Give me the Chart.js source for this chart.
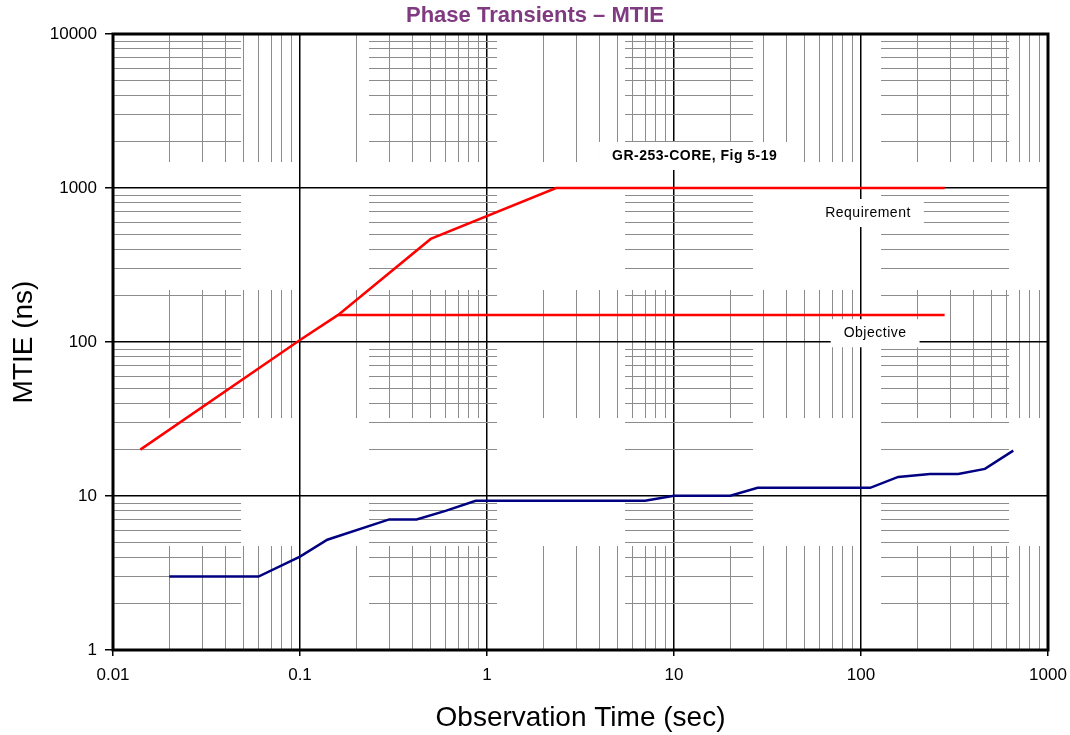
<!DOCTYPE html>
<html>
<head>
<meta charset="utf-8">
<title>Phase Transients - MTIE</title>
<script src="https://cdn.jsdelivr.net/npm/chart.js@4.4.1/dist/chart.umd.min.js"></script>
<style>
  html, body { margin: 0; padding: 0; background: #fff; }
</style>
</head>
<body>
<canvas id="mtieChart" width="1070" height="735"></canvas>
<script>
// GR-253 mask (requirement / objective) and the measured MTIE curve
const reqTime = [0.014, 0.1, 0.16, 0.5, 2.34, 280];
const reqMtie = [20, 103, 150, 467, 1000, 1000];

const objTime = [0.16, 280];
const objMtie = [150, 150];

const measTime = [0.02, 0.06, 0.1, 0.14, 0.3, 0.42, 0.6, 0.87, 7, 10, 20, 28, 112, 158, 234, 331, 460, 652];
const measMtie = [3, 3, 4.04, 5.2, 7.05, 7.05, 8.0, 9.3, 9.3, 10.05, 10.05, 11.3, 11.3, 13.3, 13.9, 13.9, 15.0, 19.7];

const xDecades = [0.01, 0.1, 1, 10, 100, 1000];
const yDecades = [1, 10, 100, 1000, 10000];

const notes = [
    { text: 'GR-253-CORE, Fig 5-19', x: 12.9, y: 1614, bold: true },
    { text: 'Requirement', x: 109, y: 688, bold: false },
    { text: 'Objective', x: 119, y: 114, bold: false }
];

const isMajor = v => Math.abs(Math.log10(v) - Math.round(Math.log10(v))) < 1e-9;

function decadeLabel(v) {
    const n = Math.round(Math.log10(v));
    return n < 0 ? Math.pow(10, n).toFixed(-n) : String(Math.pow(10, n));
}

// 1..9 inside every decade, for the grid
function gridValues(decades) {
    const out = [];
    decades.forEach((d, i) => {
        if (i === decades.length - 1) { out.push(d); return; }
        for (let m = 1; m < 10; m++) out.push(d * m);
    });
    return out;
}

const pairs = (xs, ys) => xs.map((x, i) => ({ x: x, y: ys[i] }));

Chart.defaults.font.family = "'Liberation Sans', Arial, sans-serif";
Chart.defaults.color = '#000';

const gridOpts = {
    color: ctx => isMajor(ctx.tick.value) ? '#000' : '#8c8c8c',
    lineWidth: ctx => isMajor(ctx.tick.value) ? 1.5 : 1,
    tickColor: ctx => isMajor(ctx.tick.value) ? '#000' : 'rgba(0,0,0,0)',
    tickWidth: 1.5
};
const borderOpts = {
    display: false,
    dash: ctx => (ctx.tick && !isMajor(ctx.tick.value)) ? [128, 128] : []
};

const plotFrame = {
    id: 'plotFrame',
    beforeDatasetsDraw(chart) {
        const { ctx, chartArea: a } = chart;
        ctx.save();
        ctx.strokeStyle = '#000';
        ctx.lineWidth = 3;
        ctx.strokeRect(a.left, a.top, a.right - a.left, a.bottom - a.top);
        ctx.restore();
    }
};

const noteBoxes = {
    id: 'noteBoxes',
    afterDatasetsDraw(chart) {
        const { ctx, scales } = chart;
        notes.forEach(n => {
            const px = scales.x.getPixelForValue(n.x);
            const py = scales.y.getPixelForValue(n.y);
            ctx.save();
            ctx.font = (n.bold ? 'bold ' : '') + "14px 'Liberation Sans', Arial, sans-serif";
            ctx.letterSpacing = '0.5px';
            const w = ctx.measureText(n.text).width + 26;
            ctx.fillStyle = '#fff';
            ctx.fillRect(px - w / 2, py - 14, w, 28);
            ctx.fillStyle = '#000';
            ctx.textAlign = 'center';
            ctx.textBaseline = 'middle';
            ctx.fillText(n.text, px, py);
            ctx.restore();
        });
    }
};

const ctx = document.getElementById('mtieChart').getContext('2d');
new Chart(ctx, {
    type: 'line',
    data: {
        datasets: [
            {
                label: 'Requirement',
                data: pairs(reqTime, reqMtie),
                borderColor: '#ff0000',
                borderWidth: 2.5,
                pointRadius: 0
            },
            {
                label: 'Objective',
                data: pairs(objTime, objMtie),
                borderColor: '#ff0000',
                borderWidth: 2.5,
                pointRadius: 0
            },
            {
                label: 'MTIE',
                data: pairs(measTime, measMtie),
                borderColor: '#000080',
                borderWidth: 2.5,
                pointRadius: 0
            }
        ]
    },
    options: {
        responsive: false,
        animation: false,
        devicePixelRatio: 1,
        plugins: {
            legend: { display: false },
            tooltip: { enabled: false },
            title: {
                display: true,
                text: 'Phase Transients \u2013 MTIE',
                color: '#803a80',
                font: { size: 22, weight: 'bold' },
                padding: { top: 3, bottom: 4.6 }
            }
        },
        scales: {
            x: {
                type: 'logarithmic',
                min: 0.01,
                max: 1000,
                afterBuildTicks: s => { s.ticks = gridValues(xDecades).map(v => ({ value: v })); },
                afterFit: s => { s.height = 85; s.paddingRight = 22; },
                ticks: {
                    autoSkip: false,
                    maxRotation: 0,
                    padding: 9,
                    font: { size: 17 },
                    callback: v => isMajor(v) ? decadeLabel(v) : ''
                },
                grid: Object.assign({ tickLength: 6 }, gridOpts),
                border: borderOpts,
                title: {
                    display: true,
                    text: 'Observation Time (sec)',
                    font: { size: 28 },
                    padding: { top: 0, bottom: 0 }
                }
            },
            y: {
                type: 'logarithmic',
                min: 1,
                max: 10000,
                afterBuildTicks: s => { s.ticks = gridValues(yDecades).map(v => ({ value: v })); },
                afterFit: s => { s.width = 113; },
                ticks: {
                    autoSkip: false,
                    padding: 8,
                    font: { size: 17 },
                    callback: v => isMajor(v) ? decadeLabel(v) : ''
                },
                grid: Object.assign({ tickLength: 8 }, gridOpts),
                border: borderOpts,
                title: {
                    display: true,
                    text: 'MTIE (ns)',
                    font: { size: 28 },
                    padding: { top: 7, bottom: 0 }
                }
            }
        }
    },
    plugins: [plotFrame, noteBoxes]
});
</script>
</body>
</html>
